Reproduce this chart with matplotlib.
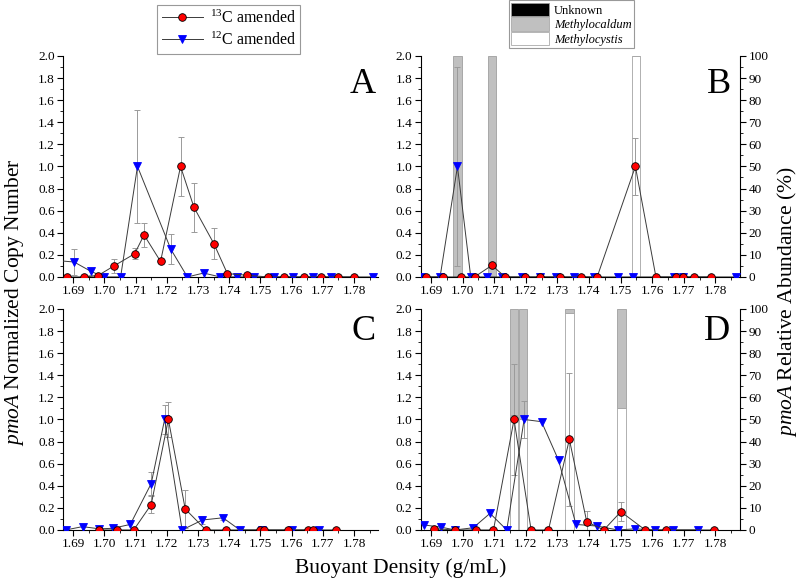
import numpy as np
import matplotlib
matplotlib.use('Agg')
import matplotlib.pyplot as plt
from matplotlib.ticker import MultipleLocator
from matplotlib.patches import Patch

plt.rcParams['font.family'] = 'Liberation Serif'
plt.rcParams['mathtext.fontset'] = 'custom'
plt.rcParams['mathtext.rm'] = 'Liberation Serif'
plt.rcParams['mathtext.it'] = 'Liberation Serif:italic'

# ---------------- data ----------------
# panel A
a_13_x = [1.6880, 1.6934, 1.6978, 1.7031, 1.7097, 1.7127, 1.7180, 1.7244, 1.7287, 1.7351,
          1.7394, 1.7458, 1.7523, 1.7575, 1.7640, 1.7693, 1.7747, 1.7800]
a_13_y = [0, 0, 0.01, 0.10, 0.21, 0.38, 0.14, 1.00, 0.63, 0.30, 0.03, 0.015, 0, 0, 0, 0, 0, 0]
a_13_e = [0, 0, 0, 0.06, 0.05, 0.11, 0, 0.265, 0.22, 0.14, 0, 0, 0, 0, 0, 0, 0, 0]
a_12_x = [1.6840, 1.6903, 1.6957, 1.6999, 1.7052, 1.7106, 1.7213, 1.7266, 1.7318, 1.7371,
          1.7425, 1.7480, 1.7545, 1.7605, 1.7670, 1.7725, 1.7860]
a_12_y = [0.15, 0.135, 0.05, 0, 0, 1.00, 0.25, 0, 0.035, 0, 0, 0, 0, 0, 0, 0, 0]
a_12_e = [0, 0.115, 0.03, 0, 0, 0.51, 0.135, 0, 0, 0, 0, 0, 0, 0, 0, 0, 0]

# panel B
b_13_x = [1.6886, 1.6939, 1.6995, 1.7038, 1.7093, 1.7135, 1.7199, 1.7244, 1.7308, 1.7374,
          1.7426, 1.7547, 1.7612, 1.7676, 1.7699, 1.7731, 1.7785]
b_13_y = [0, 0, 0, 0, 0.105, 0, 0, 0, 0, 0, 0, 1.00, 0, 0, 0, 0, 0]
b_13_e = [0, 0, 0, 0, 0.01, 0, 0, 0, 0, 0, 0, 0.255, 0, 0, 0, 0, 0]
b_12_x = [1.6870, 1.6929, 1.6984, 1.7026, 1.7079, 1.7125, 1.7188, 1.7244, 1.7297, 1.7352,
          1.7416, 1.7492, 1.7538, 1.7670, 1.7697, 1.7866]
b_12_y = [0, 0, 1.00, 0, 0, 0, 0, 0, 0, 0, 0, 0, 0, 0, 0, 0]
b_12_e = [0, 0, 0.90, 0, 0, 0, 0, 0, 0, 0, 0, 0, 0, 0, 0, 0]
b_bar_x = [1.6984, 1.7094, 1.7549]
b_unknown = [0, 0, 0]
b_methylocaldum = [100, 100, 0]
b_methylocystis = [0, 0, 100]

# panel C
c_13_x = [1.6984, 1.7041, 1.7094, 1.7150, 1.7205, 1.7259, 1.7325, 1.7390, 1.7500, 1.7513,
          1.7588, 1.7654, 1.7667, 1.7741]
c_13_y = [0, 0, 0, 0.23, 1.00, 0.19, 0, 0, 0, 0, 0, 0, 0, 0]
c_13_e = [0, 0, 0, 0.08, 0.16, 0.17, 0, 0, 0, 0, 0, 0, 0, 0]
c_12_x = [1.6876, 1.6930, 1.6984, 1.7027, 1.7083, 1.7150, 1.7193, 1.7249, 1.7314, 1.7380,
          1.7434, 1.7505, 1.7600, 1.7687]
c_12_y = [0, 0.03, 0.01, 0.015, 0.05, 0.42, 1.00, 0, 0.09, 0.11, 0, 0, 0, 0]
c_12_e = [0, 0, 0, 0, 0, 0.10, 0.13, 0, 0.04, 0.02, 0, 0, 0, 0]

# panel D
d_13_x = [1.6911, 1.6977, 1.7042, 1.7098, 1.7163, 1.7217, 1.7272, 1.7338, 1.7393, 1.7447,
          1.7501, 1.7578, 1.7644, 1.7796]
d_13_y = [0.01, 0, 0, 0, 1.00, 0, 0, 0.82, 0.075, 0, 0.165, 0, 0, 0]
d_13_e = [0, 0, 0, 0, 0.50, 0, 0, 0.60, 0.10, 0, 0.085, 0, 0, 0]
d_12_x = [1.6879, 1.6932, 1.6977, 1.7034, 1.7087, 1.7140, 1.7195, 1.7250, 1.7304, 1.7359,
          1.7426, 1.7491, 1.7546, 1.7610, 1.7666, 1.7746]
d_12_y = [0.045, 0.025, 0, 0.02, 0.15, 0, 1.00, 0.98, 0.63, 0.05, 0.035, 0, 0.01, 0, 0, 0]
d_12_e = [0, 0, 0, 0, 0, 0, 0.17, 0, 0, 0, 0, 0, 0, 0, 0, 0]
d_bar_x = [1.7163, 1.7192, 1.7338, 1.7503]
d_unknown = [0, 0, 0, 0]
d_methylocaldum = [48, 50, 2, 45]
d_methylocystis = [52, 50, 98, 55]

XLIM = (1.6868, 1.7878)
BAR_W = 0.0027
TICK_FS = 9.5


def style_axis(ax):
    ax.set_xlim(*XLIM)
    ax.set_ylim(0, 2.0)
    ax.xaxis.set_major_locator(MultipleLocator(0.01))
    ax.xaxis.set_minor_locator(MultipleLocator(0.005))
    ax.yaxis.set_major_locator(MultipleLocator(0.2))
    ax.yaxis.set_minor_locator(MultipleLocator(0.1))
    ax.xaxis.set_major_formatter(plt.FuncFormatter(lambda v, p: f"{v:.2f}"))
    ax.yaxis.set_major_formatter(plt.FuncFormatter(lambda v, p: f"{v:.1f}"))
    ax.spines['top'].set_visible(False)
    ax.spines['right'].set_visible(False)
    for s in ('left', 'bottom'):
        ax.spines[s].set_linewidth(0.8)
    ax.tick_params(which='major', direction='out', length=4, width=0.8, labelsize=TICK_FS, pad=2)
    ax.tick_params(which='minor', direction='out', length=2, width=0.6)


def draw_series(ax, x, y, e, marker, color, mec, label):
    x, y, e = np.array(x), np.array(y), np.array(e)
    m = e > 0
    ax.errorbar(x[m], y[m], yerr=e[m], fmt='none', ecolor='#9a9a9a',
                elinewidth=0.7, capsize=2, capthick=0.7, zorder=2)
    ln, = ax.plot(x, y, '-', color='#3a3a3a', lw=0.7, marker=marker, ms=5.5,
                  mfc=color, mec=mec, mew=0.6, zorder=3, label=label)
    return ln


def draw_panel(pos, d13, d12, letter, lx, ly, bars=None):
    ax = fig.add_axes(pos)
    style_axis(ax)
    if bars is not None:
        tw = ax.twinx()
        bx, unk, cald, cyst = bars
        tw.bar(bx, cyst, width=BAR_W, color='white', edgecolor='#b0b0b0', lw=0.7)
        tw.bar(bx, cald, width=BAR_W, bottom=cyst, color='#c0c0c0', edgecolor='#a8a8a8', lw=0.7)
        tw.bar(bx, unk, width=BAR_W, bottom=np.add(cyst, cald), color='black', lw=0)
        tw.set_ylim(0, 100)
        tw.yaxis.set_major_locator(MultipleLocator(10))
        tw.yaxis.set_minor_locator(MultipleLocator(5))
        tw.spines['top'].set_visible(False)
        tw.spines['left'].set_visible(False)
        tw.spines['bottom'].set_visible(False)
        tw.spines['right'].set_linewidth(0.8)
        tw.tick_params(which='major', direction='out', length=4, width=0.8, labelsize=TICK_FS, pad=2)
        tw.tick_params(which='minor', direction='out', length=2, width=0.6)
        ax.set_zorder(tw.get_zorder() + 1)
        ax.patch.set_visible(False)
    h12 = draw_series(ax, *d12, 'v', 'blue', 'blue', r'$^{12}$C amended')
    h13 = draw_series(ax, *d13, 'o', 'red', 'black', r'$^{13}$C amended')
    ax.text(lx, ly, letter, transform=ax.transAxes, fontsize=26, ha='center', va='center')
    return h13, h12


fig = plt.figure(figsize=(8, 5.83), dpi=100)

h13, h12 = draw_panel([0.079, 0.525, 0.394, 0.379], (a_13_x, a_13_y, a_13_e),
                      (a_12_x, a_12_y, a_12_e), 'A', 0.95, 0.873)
draw_panel([0.526, 0.525, 0.399, 0.379], (b_13_x, b_13_y, b_13_e),
           (b_12_x, b_12_y, b_12_e), 'B', 0.934, 0.873,
           bars=(b_bar_x, b_unknown, b_methylocaldum, b_methylocystis))
draw_panel([0.079, 0.091, 0.394, 0.379], (c_13_x, c_13_y, c_13_e),
           (c_12_x, c_12_y, c_12_e), 'C', 0.952, 0.90)
draw_panel([0.526, 0.091, 0.399, 0.379], (d_13_x, d_13_y, d_13_e),
           (d_12_x, d_12_y, d_12_e), 'D', 0.928, 0.896,
           bars=(d_bar_x, d_unknown, d_methylocaldum, d_methylocystis))

leg1 = fig.legend([h13, h12], [r'$^{13}$C amended', r'$^{12}$C amended'],
                  loc='upper left', bbox_to_anchor=(0.19, 1.0), fontsize=11.5,
                  frameon=True, fancybox=False, edgecolor='#999999', framealpha=1,
                  handlelength=2.6, borderpad=0.3, labelspacing=0.3, handletextpad=0.4,
                  borderaxespad=0.3)
leg1.get_frame().set_linewidth(0.8)

patches = [Patch(facecolor='black', edgecolor='#999999', lw=0.6),
           Patch(facecolor='#c0c0c0', edgecolor='#aaaaaa', lw=0.6),
           Patch(facecolor='white', edgecolor='#aaaaaa', lw=0.6)]
leg2 = fig.legend(patches, ['Unknown', 'Methylocaldum', 'Methylocystis'],
                  loc='upper left', bbox_to_anchor=(0.636, 1.0), fontsize=9,
                  frameon=True, fancybox=False, edgecolor='#999999', framealpha=1,
                  handlelength=3.0, handleheight=1.3, borderpad=0.2, labelspacing=0.05,
                  handletextpad=0.4, borderaxespad=0.0)
leg2.get_frame().set_linewidth(0.8)
for t in leg2.get_texts()[1:]:
    t.set_fontstyle('italic')

fig.text(0.018, 0.482, r'$\it{pmoA}$ Normalized Copy Number', rotation=90,
         ha='center', va='center', fontsize=15.5)
fig.text(0.984, 0.482, r'$\it{pmoA}$ Relative Abundance (%)', rotation=90,
         ha='center', va='center', fontsize=15.5)
fig.text(0.501, 0.026, 'Buoyant Density (g/mL)', ha='center', va='center', fontsize=15.5)

fig.savefig('out.png', dpi=100)
